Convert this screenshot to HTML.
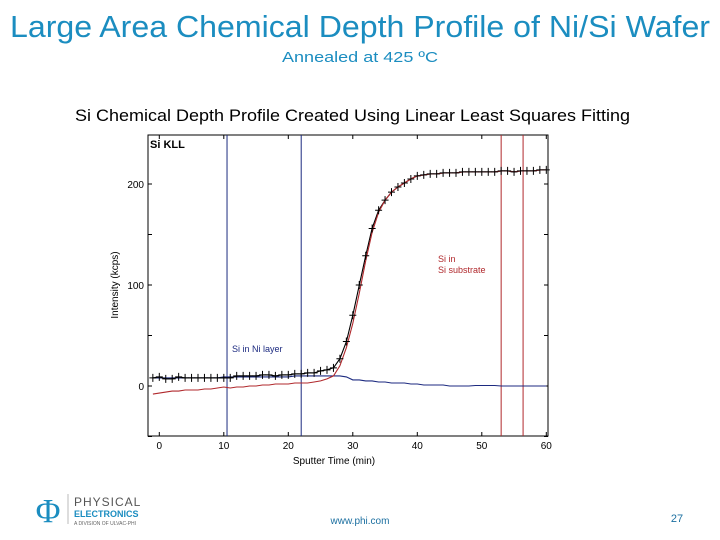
<!DOCTYPE html>
<html><head><meta charset="utf-8">
<style>
body{margin:0;width:720px;height:540px;background:#fff;overflow:hidden;font-family:"Liberation Sans",sans-serif;}
svg{position:absolute;left:0;top:0}
</style></head>
<body>
<svg id="chart" width="720" height="540" xmlns="http://www.w3.org/2000/svg">
<text x="10" y="37" textLength="700" lengthAdjust="spacingAndGlyphs" font-size="31" fill="#1b8dc0">Large Area Chemical Depth Profile of Ni/Si Wafer</text>
<text x="282" y="62" textLength="156" lengthAdjust="spacingAndGlyphs" font-size="15" fill="#1b8dc0">Annealed at 425 ºC</text>
<text x="75" y="121" textLength="555" lengthAdjust="spacingAndGlyphs" font-size="17" fill="#000">Si Chemical Depth Profile Created Using Linear Least Squares Fitting</text>
<rect x="148" y="135" width="400" height="301" fill="none" stroke="#000" stroke-width="1"/>
<text x="150" y="148" font-size="11" font-weight="bold">Si KLL</text>
<g id="axes"></g>
<g id="marks"></g>
<text x="334" y="464" text-anchor="middle" font-size="10">Sputter Time (min)</text>
<text transform="translate(118,285) rotate(-90)" text-anchor="middle" font-size="10">Intensity (kcps)</text>
<text x="438" y="262" font-size="9" fill="#b0282c">Si in</text>
<text x="438" y="273" font-size="9" fill="#b0282c">Si substrate</text>
<text x="232" y="352" font-size="9" fill="#1c2a80">Si in Ni layer</text>
<g>
<text x="48" y="522" text-anchor="middle" font-size="34" fill="#1b8dc0" font-family="Liberation Serif,serif">Φ</text>
<line x1="68" y1="494" x2="68" y2="524" stroke="#bbb"/>
<text x="74" y="506" font-size="12" fill="#555" letter-spacing="1">PHYSICAL</text>
<text x="74" y="517" font-size="9" font-weight="bold" fill="#1b8dc0">ELECTRONICS</text>
<text x="74" y="525" font-size="5" fill="#666">A DIVISION OF ULVAC-PHI</text>
</g>
<text x="360" y="524" text-anchor="middle" font-size="10" fill="#1b6fa0">www.phi.com</text>
<text x="677" y="522" text-anchor="middle" font-size="11" fill="#1b6fa0">27</text>
</svg>
<script>
const times=[-1,0,1,2,3,4,5,6,7,8,9,10,11,12,13,14,15,16,17,18,19,20,21,22,23,24,25,26,27,28,29,30,31,32,33,34,35,36,37,38,39,40,41,42,43,44,45,46,47,48,49,50,51,52,53,54,55,56,57,58,59,60];
const measured=[8,9,7,7,9,8,8,8,8,8,8,8,8,10,10,10,10,11,11,10,11,11,12,12,13,13,15,16,18,27,44,70,100,129,156,174,184,192,197,201,205,208,209,210,210,211,211,211,212,212,212,212,212,212,213,213,212,213,213,213,214,214];
const substrateFit=[-8,-7,-6,-5,-5,-4,-4,-4,-3,-3,-2,-1,-2,-1,-1,0,0,1,1,2,2,2,3,3,3,4,5,7,10,20,38,62,92,124,152,172,184,192,197,201,205,208,209,210,210,211,211,211,212,212,212,212,212,212,213,213,212,213,213,213,214,214];
const niLayer=[8,8,8,8,8,8,8,8,8,8,8,9,9,9,9,9,9,9,9,9,9,9,10,10,10,10,10,10,10,10,9,6,6,5,5,4,4,3,3,3,2,2,1,1,1,1,0,0,0,0,0.5,0.5,0.5,0.5,0,0,0,0,0,0,0,0];
const xTicks=[0,10,20,30,40,50,60];
const yTicks=[0,100,200];
const niLayerBounds=[10.5,22];
const substrateBounds=[53,56.4];
const NS="http://www.w3.org/2000/svg";
const X=t=>159.3+t*6.45;
const Y=v=>386-v*1.01;
function el(tag,attrs,parent){const e=document.createElementNS(NS,tag);for(const k in attrs)e.setAttribute(k,attrs[k]);parent.appendChild(e);return e;}
const axes=document.getElementById('axes'),marks=document.getElementById('marks');
xTicks.forEach(t=>{
 const l=el('line',{x1:X(t),x2:X(t),y1:436,y2:432,stroke:'#000'},axes);
 
 
 const l2=el('line',{x1:X(t),x2:X(t),y1:135,y2:139,stroke:'#000'},axes);
 
 
 const tx=el('text',{x:X(t),y:449,'text-anchor':'middle','font-size':10},axes);tx.textContent=t;
 
 
});
[-50,0,50,100,150,200].forEach(v=>{
 const l=el('line',{x1:148,x2:152,y1:Y(v),y2:Y(v),stroke:'#000'},axes);
 
 
 const l2=el('line',{x1:544,x2:548,y1:Y(v),y2:Y(v),stroke:'#000'},axes);
 
 
});
yTicks.forEach(v=>{
 const tx=el('text',{x:144,y:Y(v)+4,'text-anchor':'end','font-size':10},axes);tx.textContent=v;
 
 
});
niLayerBounds.forEach(t=>{
 const l=el('line',{x1:X(t),x2:X(t),y1:135,y2:436,stroke:'#1c2a80','stroke-width':1},marks);
 
 
});
substrateBounds.forEach(t=>{
 const l=el('line',{x1:X(t),x2:X(t),y1:135,y2:436,stroke:'#b0282c','stroke-width':1},marks);
 
 
});
function path(vals,color,name){
 const d=times.map((t,i)=>(i?'L':'M')+X(t).toFixed(1)+','+Y(vals[i]).toFixed(1)).join('');
 const p=el('path',{d:d,fill:'none',stroke:color,'stroke-width':1.1},marks);
 
 
}
path(niLayer,'#1c2a80','ni-layer-series');
path(measured,'#000','measured-line');
path(substrateFit,'#b0282c','substrate-fit-series');
times.forEach((t,i)=>{
 const x=X(t),y=Y(measured[i]);
 const g=el('path',{d:`M${x-3.5},${y}H${x+3.5}M${x},${y-4}V${y+4}`,stroke:'#000','stroke-width':1},marks);
 
 
});
</script>
</body></html>
